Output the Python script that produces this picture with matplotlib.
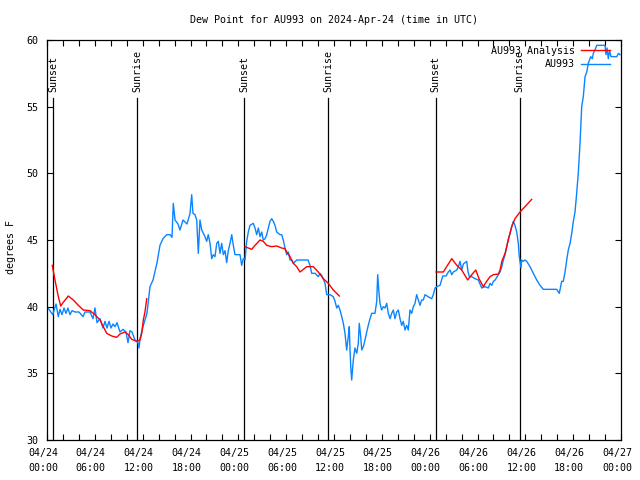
import matplotlib
matplotlib.use("Agg")
import matplotlib.pyplot as plt
import matplotlib.dates as mdates
import matplotlib.transforms as mtransforms
import numpy as np
import pandas as pd

START = "2024-04-24 00:00"
END = "2024-04-27 00:00"

# observed dew point (hours after start, deg F)
obs_hours = [0.00, 0.72, 1.13, 1.42, 1.63, 1.88, 2.13, 2.38, 2.63, 2.88, 3.14, 3.51, 4.01, 4.52, 4.77,
             5.14, 5.39, 5.77, 6.02, 6.27, 6.65, 7.02, 7.28, 7.53, 7.78, 8.03, 8.28, 8.53, 8.78, 9.16,
             9.53, 9.91, 10.16, 10.41, 10.66, 11.04, 11.41, 11.54, 11.67, 12.04, 12.54, 12.92, 13.30,
             13.80, 14.17, 14.55, 15.02, 15.43, 15.68, 15.84, 16.06, 16.43, 16.68, 17.06, 17.56, 17.94,
             18.15, 18.31, 18.56, 18.78, 18.98, 19.19, 19.41, 19.61, 19.82, 20.03, 20.23, 20.45, 20.66,
             20.86, 21.07, 21.29, 21.49, 21.70, 21.91, 22.12, 22.33, 22.54, 22.74, 22.96, 23.17, 23.37,
             23.58, 23.96, 24.21, 24.42, 24.62, 24.84, 25.05, 25.25, 25.46, 25.88, 26.09, 26.30, 26.51,
             26.72, 26.93, 27.13, 27.35, 27.56, 27.76, 27.97, 28.19, 28.39, 28.60, 28.81, 29.23, 29.44,
             29.64, 29.85, 30.07, 30.27, 30.48, 30.69, 30.90, 31.32, 31.74, 32.74, 32.99, 33.20, 33.62,
             34.03, 34.25, 34.50, 34.87, 35.09, 35.50, 35.91, 36.13, 36.34, 36.54, 36.75, 36.97, 37.17,
             37.38, 37.59, 37.79, 37.92, 38.01, 38.10, 38.22, 38.42, 38.63, 38.85, 39.05, 39.17, 39.35,
             39.48, 39.68, 39.89, 40.10, 40.30, 40.52, 40.73, 41.14, 41.36, 41.48, 41.65, 41.77, 41.98,
             42.19, 42.40, 42.61, 42.81, 43.03, 43.24, 43.44, 43.65, 43.86, 44.07, 44.28, 44.49, 44.69,
             44.91, 45.12, 45.32, 45.53, 45.75, 45.95, 46.16, 46.37, 46.58, 46.79, 47.00, 47.20, 47.42,
             47.79, 48.26, 48.46, 48.67, 48.88, 49.30, 49.64, 50.05, 50.34, 50.55, 50.77, 50.97, 51.40,
             51.60, 51.81, 52.02, 52.23, 52.65, 52.81, 52.98, 53.28, 53.69, 54.10, 54.53, 54.95, 55.36,
             55.57, 55.79, 55.99, 56.21, 56.62, 56.83, 57.05, 57.25, 57.46, 57.67, 57.87, 58.08, 58.29,
             58.49, 58.70, 58.92, 59.12, 59.24, 59.46, 59.54, 59.74, 59.96, 60.17, 60.59, 61.00, 61.43,
             61.84, 62.26, 63.93, 64.26, 64.56, 64.76, 64.98, 65.19, 65.39, 65.61, 65.82, 66.02, 66.23,
             66.44, 66.64, 66.86, 67.07, 67.27, 67.49, 67.70, 67.90, 68.20, 68.40, 68.53, 68.74, 68.95,
             69.99, 70.12, 70.25, 70.41, 70.56, 70.75, 71.00, 71.47, 71.67, 71.88]
obs_values = [40.0, 39.4, 40.2, 39.25, 39.8, 39.4, 39.9, 39.5, 39.9, 39.4, 39.7, 39.6, 39.6, 39.25, 39.6,
              39.6, 39.6, 39.1, 39.9, 38.8, 39.1, 38.4, 38.9, 38.4, 38.9, 38.4, 38.7, 38.5, 38.8, 38.1,
              38.3, 38.1, 37.3, 38.2, 38.1, 37.5, 37.3, 36.9, 37.6, 38.5, 39.5, 41.5, 42.0,
              43.3, 44.6, 45.1, 45.4, 45.4, 45.2, 47.75, 46.5, 46.2, 45.75, 46.5, 46.2, 47.0,
              48.4, 47.0, 46.9, 46.5, 44.0, 46.5, 45.75, 45.5, 45.25, 44.9, 45.4, 44.75, 43.6,
              43.9, 43.75, 44.75, 44.9, 44.0, 44.75, 43.9, 44.2, 43.3, 44.2, 44.75, 45.4, 44.6,
              43.9, 43.9, 43.9, 43.1, 43.6, 43.5, 44.9, 45.6, 46.1, 46.25, 45.9, 45.4, 45.9,
              45.25, 45.6, 45.0, 45.1, 45.4, 45.9, 46.4, 46.6, 46.4, 46.1, 45.6, 45.4, 45.4,
              45.0, 44.4, 43.9, 44.1, 43.5, 43.5, 43.25, 43.5, 43.5, 43.5, 43.1, 42.5, 42.5,
              42.25, 42.5, 42.3, 41.75, 40.9, 40.9, 40.75, 40.4, 39.9, 40.1, 39.75, 39.25, 38.75,
              38.0, 36.75, 37.75, 38.5, 36.75, 35.5, 34.5, 36.0, 36.9, 36.5, 37.25, 38.75, 37.75,
              36.75, 37.0, 37.5, 38.1, 38.6, 39.1, 39.5, 39.5, 40.4, 42.4, 41.0, 40.25, 39.75,
              40.0, 39.9, 40.25, 39.5, 39.1, 39.5, 39.75, 39.1, 39.6, 39.75, 39.1, 38.6, 38.9,
              38.25, 38.6, 38.25, 39.75, 39.5, 40.0, 40.25, 40.9, 40.5, 40.1, 40.5, 40.5, 40.9,
              40.75, 40.6, 40.9, 41.4, 41.5, 41.6, 42.3, 42.3, 42.6, 42.75, 42.4, 42.6, 42.75,
              43.0, 43.4, 42.75, 43.2, 43.4, 42.6, 42.25, 42.25, 42.1, 42.0, 41.4, 41.5, 41.4,
              41.75, 41.6, 41.9, 42.0, 42.4, 42.6, 43.0, 43.5, 43.9, 44.5, 45.1, 45.5, 46.0,
              46.4, 46.1, 45.6, 44.75, 43.75, 42.9, 43.5, 43.4, 43.5, 43.4, 43.0, 42.5, 42.0,
              41.6, 41.3, 41.3, 41.0, 41.9, 41.9, 42.6, 43.5, 44.25, 44.75, 45.5, 46.4, 47.1,
              48.5, 50.0, 52.25, 55.0, 55.75, 57.25, 57.6, 58.25, 58.75, 58.6, 59.0, 59.25, 59.6,
              59.6, 58.9, 59.4, 58.6, 59.2, 58.75, 58.75, 58.75, 59.0, 58.9]

# analysis dew point, three separate runs (hours after start, deg F)
ana1_hours = [0.66, 1.00, 1.42, 1.72, 2.01, 2.67, 3.30, 3.93, 4.55, 5.39, 6.02, 6.65, 7.06, 7.49,
              8.12, 8.74, 9.16, 9.78, 10.20, 10.62, 11.25, 11.67, 11.88, 12.08, 12.29, 12.51]
ana1_values = [43.1, 42.0, 40.75, 40.05, 40.3, 40.8, 40.5, 40.1, 39.75, 39.7, 39.4, 39.0, 38.5, 38.0,
               37.8, 37.7, 37.95, 38.1, 37.9, 37.55, 37.4, 37.5, 38.0, 39.0, 39.6, 40.6]
ana2_hours = [24.84, 25.25, 25.68, 26.09, 26.72, 27.13, 27.56, 28.19, 28.81, 29.44, 29.85, 30.07,
              30.48, 30.90, 31.32, 31.74, 32.58, 33.41, 34.03, 34.66, 35.29, 35.91, 36.67]
ana2_values = [44.5, 44.4, 44.3, 44.6, 45.0, 44.9, 44.6, 44.5, 44.55, 44.4, 44.35, 44.1,
               43.75, 43.25, 43.0, 42.6, 43.0, 43.0, 42.6, 42.1, 41.75, 41.25, 40.8]
ana3_hours = [48.80, 49.71, 50.13, 50.77, 51.40, 52.02, 52.77, 53.28, 53.78, 54.19, 54.73, 55.15,
              55.57, 55.99, 56.62, 56.83, 57.05, 57.46, 57.87, 58.29, 58.70, 59.33, 59.96, 60.80]
ana3_values = [42.6, 42.6, 43.0, 43.6, 43.1, 42.75, 42.0, 42.4, 42.75, 42.1, 41.5, 41.9,
               42.25, 42.4, 42.45, 42.75, 43.4, 44.0, 45.0, 46.0, 46.6, 47.1, 47.5, 48.05]

sunset_times = ["2024-04-24 00:45", "2024-04-25 00:44", "2024-04-26 00:46"]
sunrise_times = ["2024-04-24 11:17", "2024-04-25 11:16", "2024-04-26 11:18"]

title = "Dew Point for AU993 on 2024-Apr-24 (time in UTC)"
ylabel = "degrees F"
obs_label = "AU993"
ana_label = "AU993 Analysis"

RED = "#ff0000"
BLUE = "#0a84ff"

plt.rcParams['font.family'] = ['DejaVu Sans Mono']
plt.rcParams['font.size'] = 7.2

t0 = pd.Timestamp(START)
def to_time(hours):
    return t0 + pd.to_timedelta(np.asarray(hours), unit="h")

fig = plt.figure(figsize=(6.4, 4.8), dpi=100)
ax = fig.add_axes([47/640, 1 - 440/480, 574/640, 400/480])

# sun event lines
for s in sunset_times + sunrise_times:
    ts = pd.Timestamp(s)
    ax.plot([ts, ts], [30, 55.65], color="black", lw=0.9, zorder=1)
for s in sunset_times:
    ax.text(pd.Timestamp(s), 56.1, "Sunset", rotation=90, ha="center", va="bottom")
for s in sunrise_times:
    ax.text(pd.Timestamp(s), 56.1, "Sunrise", rotation=90, ha="center", va="bottom")

ax.plot(to_time(ana1_hours), ana1_values, color=RED, lw=1.0, label=ana_label, zorder=3)
ax.plot(to_time(ana2_hours), ana2_values, color=RED, lw=1.0, zorder=3)
ax.plot(to_time(ana3_hours), ana3_values, color=RED, lw=1.0, zorder=3)
ax.plot(to_time(obs_hours), obs_values, color=BLUE, lw=1.0, label=obs_label, zorder=2)

ax.set_xlim(pd.Timestamp(START), pd.Timestamp(END))
ax.set_ylim(30, 60)
ax.set_yticks(np.arange(30, 61, 5))
ax.xaxis.set_major_locator(mdates.HourLocator(byhour=[0, 6, 12, 18]))
ax.xaxis.set_minor_locator(mdates.HourLocator(byhour=range(0, 24, 2)))
ax.xaxis.set_major_formatter(mdates.DateFormatter("%m/%d\n%H:%M"))
ax.tick_params(which="both", direction="in", top=True, right=True, length=4, width=0.8, color="black")
ax.tick_params(axis="x", pad=6)
ax.tick_params(axis="y", pad=6)
for lab in ax.get_xticklabels():
    lab.set_linespacing(1.6)
    lab.set_transform(lab.get_transform() + mtransforms.ScaledTranslation(-4/100, 0, fig.dpi_scale_trans))
for sp in ax.spines.values():
    sp.set_linewidth(0.9)

fig.text(334/640, 1 - 20/480, title, ha="center", va="center")
fig.text(11/640, 1 - 247/480, ylabel, rotation=90, ha="center", va="center")

leg = ax.legend(loc="upper right", bbox_to_anchor=(0.981, 0.985), frameon=False, markerfirst=False,
                handlelength=2.9, handletextpad=0.6, labelspacing=0.35, borderpad=0, borderaxespad=0)

fig.savefig("out.png", dpi=100)
